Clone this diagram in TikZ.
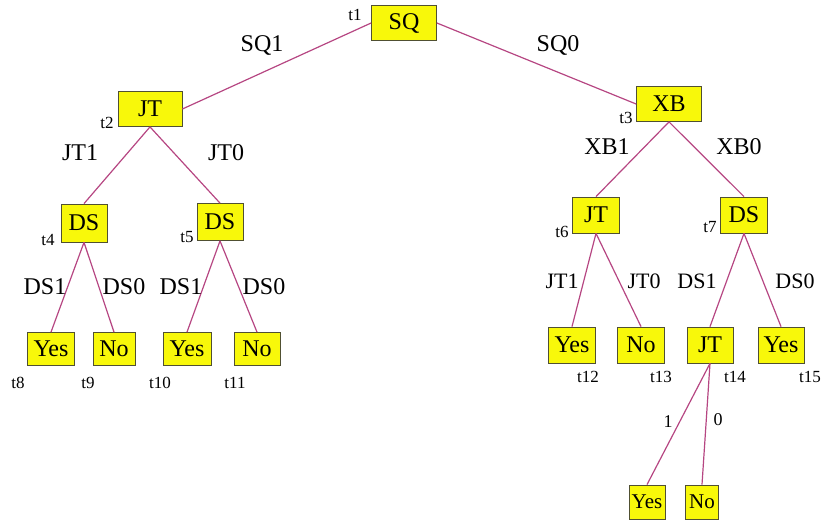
\documentclass[tikz,border=0pt]{standalone}
\usepackage{fontspec}
\setmainfont{Liberation Serif}
\definecolor{boxfill}{RGB}{248,248,10}
\definecolor{boxline}{RGB}{80,80,50}
\definecolor{branch}{RGB}{182,70,130}
\begin{document}
\begin{tikzpicture}[x=1pt,y=-1pt,
  tbox/.style={draw=boxline, line width=0.8pt, fill=boxfill, inner sep=0pt,
    font=\fontsize{24}{26}\selectfont},
  sbox/.style={tbox, font=\fontsize{21}{23}\selectfont},
  edgelab/.style={font=\fontsize{24}{26}\selectfont, inner sep=0pt},
  smalllab/.style={font=\fontsize{22}{24}\selectfont, inner sep=0pt},
  numlab/.style={font=\fontsize{18}{20}\selectfont, inner sep=0pt},
  tlab/.style={font=\fontsize{17}{19}\selectfont, inner sep=0pt},
  branchline/.style={draw=branch, line width=1.2pt}]
\useasboundingbox (0,0) rectangle (825,520);

% decision nodes
\node[tbox, minimum width=65pt, minimum height=35pt] (sq) at (404,23) {SQ};
\node[tbox, minimum width=64pt, minimum height=35pt] (jtA) at (150,109) {JT};
\node[tbox, minimum width=65pt, minimum height=35pt] (xb) at (669,104) {XB};
\node[tbox, minimum width=46pt, minimum height=38pt] (dsA) at (84,223) {DS};
\node[tbox, minimum width=46pt, minimum height=37pt] (dsB) at (220,222) {DS};
\node[tbox, minimum width=47pt, minimum height=36pt] (jtB) at (596,215) {JT};
\node[tbox, minimum width=47pt, minimum height=36pt] (dsC) at (744,215) {DS};

% leaves, left subtree
\node[tbox, minimum width=47pt, minimum height=33pt] (y8) at (51,349) {Yes};
\node[tbox, minimum width=42pt, minimum height=33pt] (n9) at (114,349) {No};
\node[tbox, minimum width=48pt, minimum height=33pt] (y10) at (187,349) {Yes};
\node[tbox, minimum width=46pt, minimum height=33pt] (n11) at (257,349) {No};

% leaves, right subtree
\node[tbox, minimum width=47pt, minimum height=36pt] (y12) at (572,345) {Yes};
\node[tbox, minimum width=47pt, minimum height=36pt] (n13) at (641,345) {No};
\node[tbox, minimum width=46pt, minimum height=36pt] (jtC) at (710,345) {JT};
\node[tbox, minimum width=46pt, minimum height=36pt] (y15) at (781,345) {Yes};
\node[sbox, minimum width=36pt, minimum height=34pt] (y16) at (647,502) {Yes};
\node[sbox, minimum width=33pt, minimum height=34pt] (n17) at (702,502) {No};

% branches
\draw[branchline] (sq.west) -- (jtA.east);
\draw[branchline] (sq.east) -- (xb.west);
\draw[branchline] (jtA.south) -- (dsA.north);
\draw[branchline] (jtA.south) -- (dsB.north);
\draw[branchline] (dsA.south) -- (y8.north);
\draw[branchline] (dsA.south) -- (n9.north);
\draw[branchline] (dsB.south) -- (y10.north);
\draw[branchline] (dsB.south) -- (n11.north);
\draw[branchline] (xb.south) -- (jtB.north);
\draw[branchline] (xb.south) -- (dsC.north);
\draw[branchline] (jtB.south) -- (y12.north);
\draw[branchline] (jtB.south) -- (n13.north);
\draw[branchline] (dsC.south) -- (jtC.north);
\draw[branchline] (dsC.south) -- (y15.north);
\draw[branchline] (jtC.south) -- (y16.north);
\draw[branchline] (jtC.south) -- (n17.north);

% branch labels
\node[edgelab] (lsq1) at (262,45) {SQ1};
\node[edgelab] (lsq0) at (558,45) {SQ0};
\node[edgelab] (ljt1) at (80,153) {JT1};
\node[edgelab] (ljt0) at (226,153) {JT0};
\node[edgelab] (lxb1) at (607,147) {XB1};
\node[edgelab] (lxb0) at (739,147) {XB0};
\node[edgelab] (lds1a) at (45,287) {DS1};
\node[edgelab] (lds0a) at (124,287) {DS0};
\node[edgelab] (lds1b) at (181,287) {DS1};
\node[edgelab] (lds0b) at (264,287) {DS0};
\node[smalllab] (ljt1b) at (562,281) {JT1};
\node[smalllab] (ljt0b) at (644,281) {JT0};
\node[smalllab] (lds1c) at (697,281) {DS1};
\node[smalllab] (lds0c) at (795,281) {DS0};
\node[numlab] (lone) at (668,422) {1};
\node[numlab] (lzero) at (718,420) {0};

% node tags
\node[tlab] (t1) at (355,15) {t1};
\node[tlab] (t2) at (107,123) {t2};
\node[tlab] (t3) at (626,118) {t3};
\node[tlab] (t4) at (48,240) {t4};
\node[tlab] (t5) at (187,237) {t5};
\node[tlab] (t6) at (562,232) {t6};
\node[tlab] (t7) at (710,227) {t7};
\node[tlab] (t8) at (18,383) {t8};
\node[tlab] (t9) at (88,383) {t9};
\node[tlab] (t10) at (160,383) {t10};
\node[tlab] (t11) at (235,383) {t11};
\node[tlab] (t12) at (588,377) {t12};
\node[tlab] (t13) at (661,377) {t13};
\node[tlab] (t14) at (735,377) {t14};
\node[tlab] (t15) at (810,377) {t15};
\end{tikzpicture}
\end{document}
